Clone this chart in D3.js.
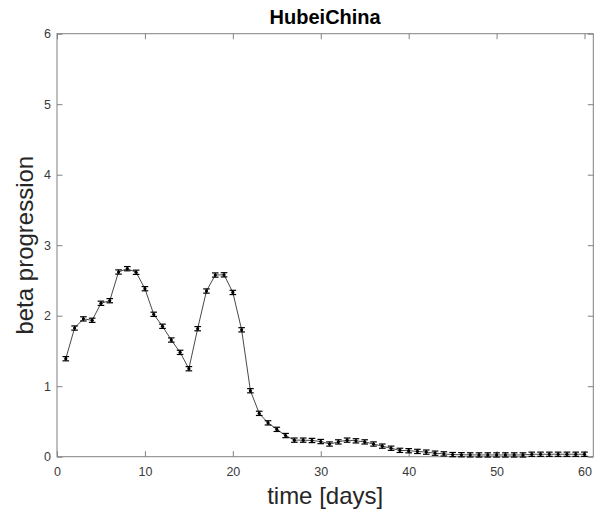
<!DOCTYPE html>
<html><head><meta charset="utf-8">
<script src="https://cdn.jsdelivr.net/npm/d3@7"></script>
<style>body{margin:0;background:#fff}svg{display:block}</style>
</head><body><svg id="c" width="600" height="518"></svg>
<script>
const days = d3.range(1, 61);
const beta = [1.39,1.825,1.955,1.935,2.176,2.213,2.62,2.667,2.616,2.383,
  2.02,1.85,1.655,1.48,1.248,1.816,2.35,2.577,2.58,2.33,
  1.80,0.936,0.615,0.48,0.388,0.30,0.235,0.235,0.23,0.215,
  0.18,0.21,0.235,0.225,0.21,0.18,0.15,0.12,0.09,0.085,
  0.075,0.065,0.05,0.04,0.03,0.028,0.026,0.025,0.025,0.025,
  0.025,0.025,0.025,0.035,0.035,0.035,0.035,0.035,0.035,0.035];
const err = [0.03,0.03,0.03,0.03,0.03,0.03,0.03,0.03,0.03,0.03,
  0.03,0.03,0.03,0.03,0.03,0.03,0.03,0.03,0.03,0.03,
  0.03,0.03,0.03,0.03,0.03,0.03,0.03,0.03,0.03,0.03,
  0.03,0.03,0.03,0.03,0.03,0.03,0.03,0.03,0.03,0.03,
  0.03,0.03,0.03,0.03,0.03,0.03,0.03,0.03,0.03,0.03,
  0.03,0.03,0.03,0.03,0.03,0.03,0.03,0.03,0.03,0.03];
const xTicks = [0,10,20,30,40,50,60];
const yTicks = [0,1,2,3,4,5,6];
const title = "HubeiChina";
const xLabel = "time [days]";
const yLabel = "beta progression";

const L=57, R=593.3, T=33.7, B=456.7;
const svg = d3.select("#c");
const x = d3.scaleLinear().domain([0,61]).range([L,R]);
const y = d3.scaleLinear().domain([0,6]).range([B,T]);
const axisCol = "#808080", font = "Helvetica, Arial, 'Liberation Sans', sans-serif";

svg.append("rect").attr("x",L).attr("y",T).attr("width",R-L).attr("height",B-T)
  .attr("fill","none").attr("stroke",axisCol).attr("stroke-width",1);

const tl = 5.5;
const gx = svg.append("g").attr("transform",`translate(0,${B})`)
  .call(d3.axisBottom(x).tickValues(xTicks).tickSizeInner(-tl).tickSizeOuter(0).tickPadding(10).tickFormat(d3.format("d")));
const gxt = svg.append("g").attr("transform",`translate(0,${T})`)
  .call(d3.axisTop(x).tickValues(xTicks).tickSizeInner(-tl).tickSizeOuter(0).tickFormat(""));
const gy = svg.append("g").attr("transform",`translate(${L},0)`)
  .call(d3.axisLeft(y).tickValues(yTicks).tickSizeInner(-tl).tickSizeOuter(0).tickPadding(6).tickFormat(d3.format("d")));
const gyr = svg.append("g").attr("transform",`translate(${R},0)`)
  .call(d3.axisRight(y).tickValues(yTicks).tickSizeInner(-tl).tickSizeOuter(0).tickFormat(""));
[gx,gxt,gy,gyr].forEach(g=>{
  g.select(".domain").remove();
  g.selectAll(".tick line").attr("stroke",axisCol);
  g.selectAll(".tick text").attr("fill","#3a3a3a").attr("font-family",font).attr("font-size",12.5);
});
gx.selectAll(".tick text").attr("dy","0.71em");

const data = days.map((d,i)=>({d, v:beta[i], e:err[i]}));
svg.append("path").datum(data)
  .attr("fill","none").attr("stroke","#333").attr("stroke-width",0.9)
  .attr("d", d3.line().x(p=>x(p.d)).y(p=>y(p.v)));

const eb = svg.append("g").attr("stroke","#000").attr("stroke-width",1.2);
data.forEach(p=>{
  const cx=x(p.d), y1=y(p.v-p.e), y2=y(p.v+p.e), w=3.3;
  eb.append("line").attr("x1",cx).attr("x2",cx).attr("y1",y1).attr("y2",y2);
  eb.append("line").attr("x1",cx-w).attr("x2",cx+w).attr("y1",y1).attr("y2",y1);
  eb.append("line").attr("x1",cx-w).attr("x2",cx+w).attr("y1",y2).attr("y2",y2);
});
svg.append("g").selectAll("circle").data(data).join("circle")
  .attr("cx",p=>x(p.d)).attr("cy",p=>y(p.v)).attr("r",1.6).attr("fill","#000");

svg.append("text").attr("x",(L+R)/2).attr("y",24).attr("text-anchor","middle")
  .attr("font-family",font).attr("font-weight","bold").attr("font-size",20).text(title);
svg.append("text").attr("x",(L+R)/2).attr("y",504).attr("text-anchor","middle")
  .attr("font-family",font).attr("font-size",24).attr("fill","#262626").text(xLabel);
svg.append("text").attr("transform",`translate(33,${(T+B)/2}) rotate(-90)`).attr("text-anchor","middle")
  .attr("font-family",font).attr("font-size",24).attr("fill","#262626").text(yLabel);
</script></body></html>
